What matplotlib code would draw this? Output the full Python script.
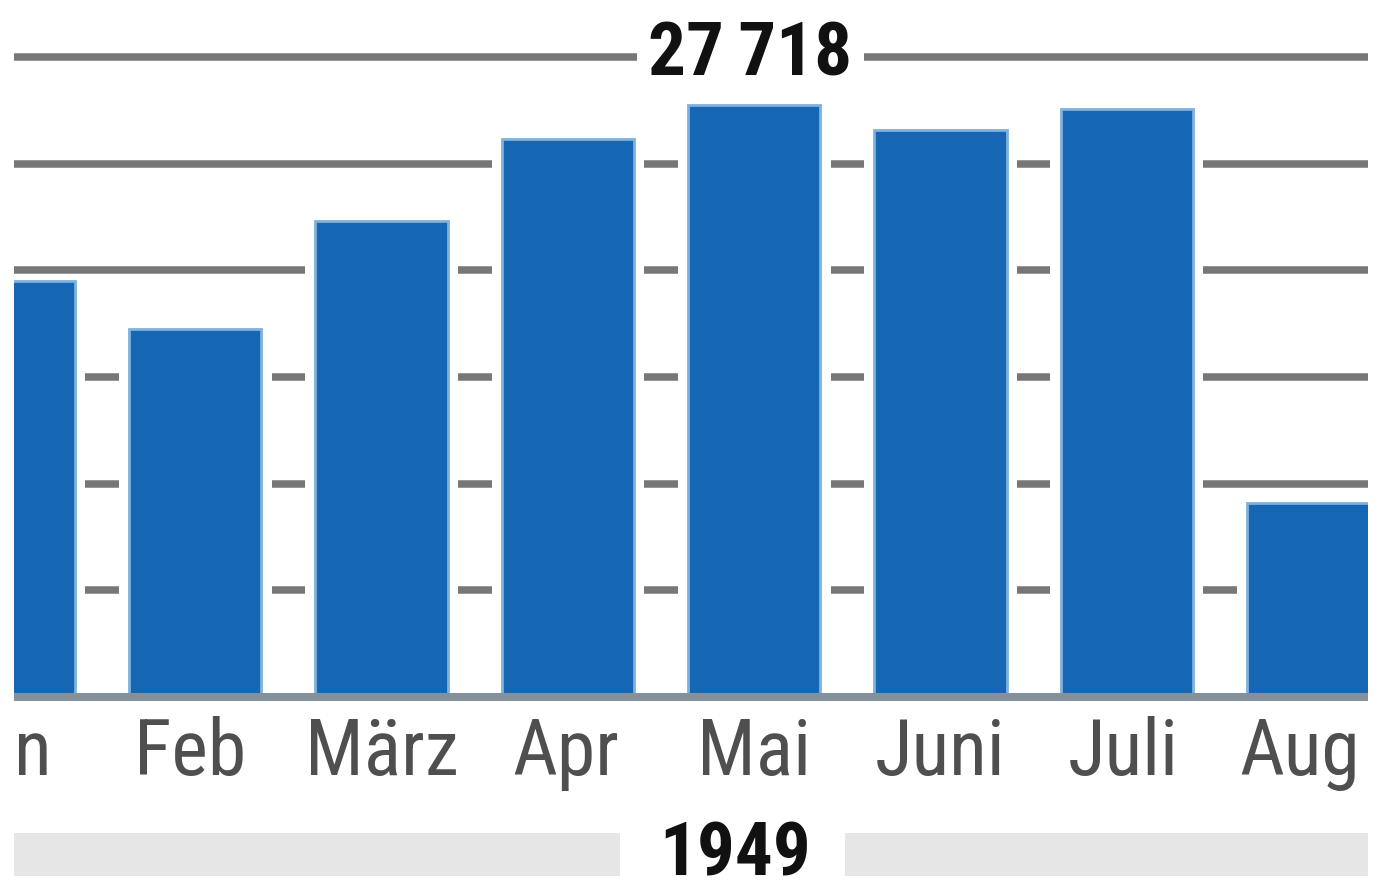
import os
import matplotlib
matplotlib.use("Agg")
import matplotlib.pyplot as plt
from matplotlib import font_manager as fm
from matplotlib.font_manager import FontProperties

months = ["Jan", "Feb", "März", "Apr", "Mai", "Juni", "Juli", "Aug"]
values = [19500, 17250, 22300, 26150, 27718, 26550, 27550, 9100]
grid_values = [5000, 10000, 15000, 20000, 25000, 30000]
max_label = "27\u2009718"
year_label = "1949"


def _weight_num(w):
    if isinstance(w, (int, float)):
        return int(w)
    return {"bold": 700, "semibold": 600, "demibold": 600, "heavy": 800,
            "black": 900, "medium": 500, "light": 300}.get(str(w).lower(), 400)


def find_condensed(bold):
    cands = []
    for f in fm.fontManager.ttflist:
        fn = os.path.basename(f.fname).lower()
        nm = f.name.lower()
        cond = ("narrow" in nm or "condensed" in nm or "narrow" in fn
                or "condensed" in fn or f.stretch in ("condensed", "semi-condensed",
                                                      "extra-condensed"))
        if not cond:
            continue
        if "italic" in fn or "oblique" in fn or f.style != "normal":
            continue
        w = _weight_num(f.weight)
        if "bold" in fn and w < 600:
            w = 700
        if bold and w < 600:
            continue
        if not bold and (w >= 600 or w < 400):
            continue
        if "roboto" in nm or "roboto" in fn:
            r = 0
        elif "open" in nm and "sans" in nm:
            r = 1
        elif "liberation" in nm:
            r = 2
        elif "dejavu" in nm:
            r = 3
        else:
            r = 4
        cands.append((r, abs(w - (700 if bold else 400)), f.fname))
    if cands:
        cands.sort()
        return cands[0][2]
    return None


reg_path = find_condensed(False)
bold_path = find_condensed(True)


def fp(size, bold=False):
    path = bold_path if bold else reg_path
    if path:
        return FontProperties(fname=path, size=size)
    return FontProperties(family="DejaVu Sans", size=size * 0.85,
                          weight="bold" if bold else "normal", stretch="condensed")


W, H = 1385, 881
fig = plt.figure(figsize=(W / 100, H / 100), dpi=100)
ax = fig.add_axes([14 / W, 0, (1368 - 14) / W, 1])
ax.set_axis_off()

# pixel mapping: value 0 at y=697 px, 5000 per 106.7 px
ppu = 106.7 / 5000
ax.set_ylim(-(H - 697) / ppu, 697 / ppu)
ax.set_xlim((14 - 9) / 186.3, (1368 - 9) / 186.3)

xs = list(range(len(months)))
bw = 0.71
gap = 0.11

for g in grid_values:
    ax.axhline(g, color="#777777", lw=5.4, zorder=1, solid_capstyle="butt")

ax.bar(xs, [v + 300 for v in values], width=bw + gap, color="white", zorder=2, linewidth=0)
ax.bar(xs, values, width=bw, color="#1567b3", edgecolor="#7fb1dc", linewidth=2.0, zorder=3)
ax.axhline(0, color="#84909c", lw=5.8, zorder=4, solid_capstyle="butt")

# month labels
label_y = -(775 - 697) / ppu
label_dx = [-0.07, -0.03, 0, -0.01, 0, 0, -0.02, -0.07]
for x, m, d in zip(xs, months, label_dx):
    ax.text(x + d, label_y, m, ha="center", va="baseline", fontproperties=fp(56),
            color="#4f4f4f", clip_on=True, zorder=5)

# max label on top line
ax.text(3.98, (697 - 75) / ppu, max_label, ha="center", va="baseline",
        fontproperties=fp(54, bold=True), color="#111111", zorder=6,
        bbox=dict(boxstyle="square,pad=0.15", fc="white", ec="none"))

# year band
band_lo = -(876 - 697) / ppu
band_hi = -(833 - 697) / ppu
ax.axhspan(band_lo, band_hi, xmin=0, xmax=(620 - 14) / 1354, color="#e6e6e6", lw=0, zorder=1)
ax.axhspan(band_lo, band_hi, xmin=(845 - 14) / 1354, xmax=1, color="#e6e6e6", lw=0, zorder=1)
ax.text(3.9, -(875 - 697) / ppu, year_label, ha="center", va="baseline",
        fontproperties=fp(54, bold=True), color="#111111", zorder=6)

fig.savefig("out.png", dpi=100, facecolor="white")
